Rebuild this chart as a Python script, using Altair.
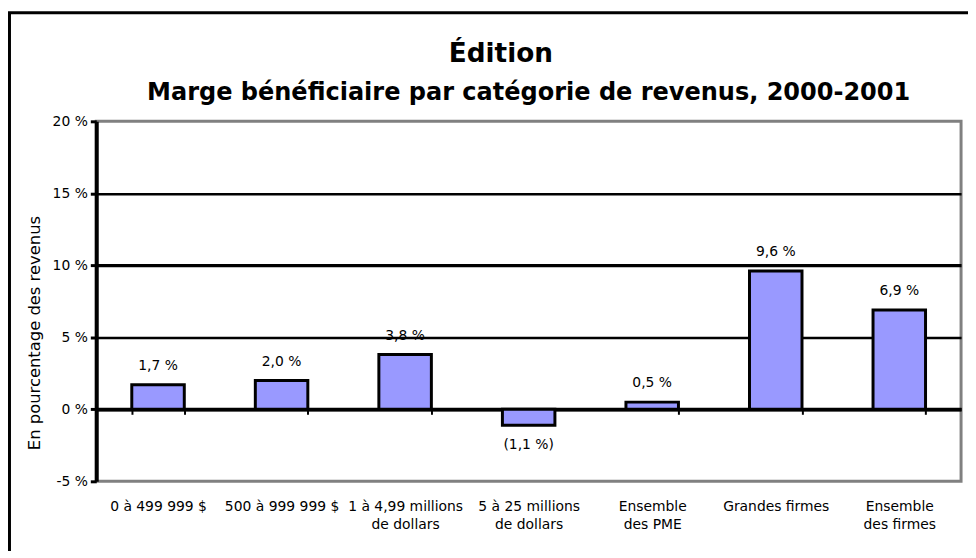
import altair as alt
import pandas as pd

categories = [
    "0 à 499 999 $",
    "500 à 999 999 $",
    "1 à 4,99 millions de dollars",
    "5 à 25 millions de dollars",
    "Ensemble des PME",
    "Grandes firmes",
    "Ensemble des firmes",
]
values = [1.7, 2.0, 3.8, -1.1, 0.5, 9.6, 6.9]
y_ticks = [-5, 0, 5, 10, 15, 20]

title_text = "Édition"
subtitle_text = "Marge bénéficiaire par catégorie de revenus, 2000-2001"
y_title = "En pourcentage des revenus"


def fmt(v):
    s = f"{abs(v):.1f}".replace(".", ",") + " %"
    return f"({s})" if v < 0 else s


df = pd.DataFrame({
    "cat": categories,
    "value": values,
    "label": [fmt(v) for v in values],
})

W, H = 872, 363
FONT = "DejaVu Sans"

x_enc = alt.X(
    "cat:N",
    sort=categories,
    title=None,
    scale=alt.Scale(paddingInner=0.575, paddingOuter=0.2875),
    axis=alt.Axis(
        orient="bottom",
        offset=-(H * 5 / 25),
        domainColor="black",
        domainWidth=3.5,
        tickColor="black",
        tickWidth=2,
        tickSize=5,
        tickBand="extent",
        labelAngle=0,
        labelFont=FONT,
        labelFontSize=14,
        labelColor="black",
        labelPadding=86,
        labelLimit=300,
        labelLineHeight=18,
        labelBaseline="top",
        labelExpr="split(replace(replace(datum.label, ' de dollars', '|de dollars'), ' des ', '|des '), '|')",
    ),
)

y_enc = alt.Y(
    "value:Q",
    scale=alt.Scale(domain=[-5, 20], nice=False),
    axis=alt.Axis(
        values=y_ticks,
        title=y_title,
        titleFont=FONT,
        titleFontSize=16.5,
        titleFontWeight="normal",
        titleColor="black",
        titleAngle=270,
        titleAlign="center",
        titleBaseline="middle",
        titleX=-62,
        titleY=213,
        labelExpr="datum.value + ' %'",
        labelFont=FONT,
        labelFontSize=14,
        labelColor="black",
        labelPadding=3,
        domainColor="black",
        domainWidth=4,
        tickColor="black",
        tickWidth=3,
        tickSize=6,
        grid=True,
        gridColor={"condition": {"test": "datum.value == 20 || datum.value == -5", "value": "transparent"}, "value": "black"},
        gridWidth={"condition": {"test": "datum.value == 10 || datum.value == 0", "value": 3.5}, "value": 2.5},
        gridOpacity=1,
    ),
)

base = alt.Chart(df)

bars = base.mark_bar(fill="#9999FF", stroke="black", strokeWidth=3).encode(
    x=x_enc, y=y_enc
)

pos_labels = base.transform_filter("datum.value >= 0").mark_text(
    font=FONT, fontSize=14, color="black", dy=-19, baseline="middle"
).encode(x=alt.X("cat:N", sort=categories), y="value:Q", text="label:N")

neg_labels = base.transform_filter("datum.value < 0").mark_text(
    font=FONT, fontSize=14, color="black", dy=20, baseline="middle"
).encode(x=alt.X("cat:N", sort=categories), y="value:Q", text="label:N")

one = alt.Data(values=[{}])

title_mark = alt.Chart(one).mark_text(
    font=FONT, fontSize=26.5, fontWeight="bold", color="black", baseline="alphabetic"
).encode(x=alt.value(408), y=alt.value(-60), text=alt.value(title_text))

subtitle_mark = alt.Chart(one).mark_text(
    font=FONT, fontSize=24.2, fontWeight="bold", color="black", baseline="alphabetic"
).encode(x=alt.value(W / 2), y=alt.value(-22), text=alt.value(subtitle_text))

frame = alt.Chart(one).mark_rect(
    fillOpacity=0, stroke="black", strokeWidth=3
).encode(
    x=alt.value(-87.5), x2=alt.value(W + 200),
    y=alt.value(-109.5), y2=alt.value(H + 300),
)

chart = alt.layer(frame, bars, pos_labels, neg_labels, title_mark, subtitle_mark).properties(
    width=W,
    height=H,
    autosize=alt.AutoSizeParams(type="none"),
    padding={"left": 89, "top": 112, "right": 7, "bottom": 68},
    background="white",
).configure_view(
    stroke="#808080", strokeWidth=3
)

chart.save("out.html", embed_options={"renderer": "svg", "actions": False})
